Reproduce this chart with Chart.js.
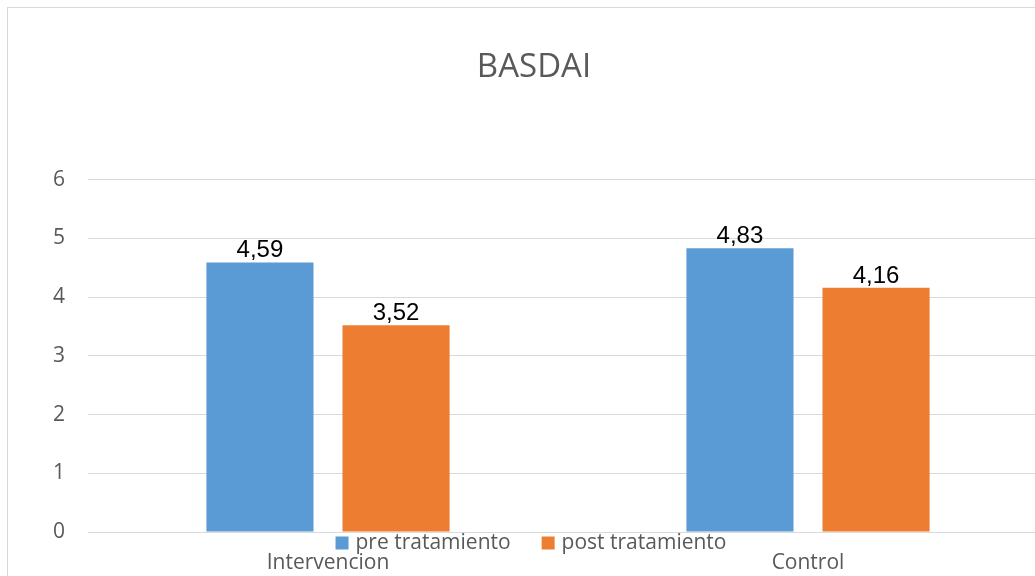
<!DOCTYPE html>
<html>
<head>
<meta charset="utf-8">
<script src="https://cdn.jsdelivr.net/npm/chart.js@4.4.1/dist/chart.umd.min.js"></script>
<style>
  html, body { margin: 0; padding: 0; background: #fff; overflow: hidden; }
  #frame { position: absolute; left: 7px; top: 7px; width: 1054px; height: 600px; border: 1px solid #d9d9d9; }
</style>
</head>
<body>
<div id="frame"><canvas id="barChart" width="1054" height="600"></canvas></div>
<script>
const categories = ['Intervencion', 'Control'];
const preValues = [4.59, 4.83];
const postValues = [3.52, 4.16];
const seriesNames = ['pre tratamiento', 'post tratamiento'];
const yTicks = [0, 1, 2, 3, 4, 5, 6];

const textGrey = '#595959';

// value labels above each bar, decimal comma
const valueLabels = {
  id: 'valueLabels',
  afterDatasetsDraw(chart) {
    const c = chart.ctx;
    c.save();
    c.font = '24px "Liberation Sans", Arial, sans-serif';
    c.fillStyle = '#000';
    c.textAlign = 'center';
    c.textBaseline = 'alphabetic';
    chart.data.datasets.forEach((ds, i) => {
      chart.getDatasetMeta(i).data.forEach((bar, j) => {
        c.fillText(ds.data[j].toFixed(2).replace('.', ','), bar.x, bar.y - 5);
      });
    });
    c.restore();
  }
};

// legend sits between axis line and category labels, like the original
const overlapLegend = {
  id: 'overlapLegend',
  afterDraw(chart) {
    const c = chart.ctx;
    c.save();
    c.font = '21px "Open Sans", sans-serif';
    c.textBaseline = 'middle';
    const box = 13, gap = 7, itemGap = 31;
    const items = chart.data.datasets.map(ds => ({ text: ds.label, color: ds.backgroundColor, w: box + gap + c.measureText(ds.label).width }));
    const total = items.reduce((s, it) => s + it.w, 0) + itemGap * (items.length - 1);
    let x = 523 - total / 2;
    const y = 535;
    items.forEach(it => {
      c.fillStyle = it.color;
      c.fillRect(x, y - box / 2, box, box);
      c.fillStyle = textGrey;
      c.fillText(it.text, x + box + gap, y);
      x += it.w + itemGap;
    });
    c.restore();
  }
};

const ctx = document.getElementById('barChart').getContext('2d');

new Chart(ctx, {
  type: 'bar',
  data: {
    labels: categories,
    datasets: [
      { label: seriesNames[0], data: preValues, backgroundColor: '#5B9BD5' },
      { label: seriesNames[1], data: postValues, backgroundColor: '#ED7D31' }
    ]
  },
  options: {
    responsive: false,
    animation: false,
    categoryPercentage: 0.567,
    barPercentage: 0.787,
    layout: { padding: { left: 12, right: 14, bottom: 26 } },
    plugins: {
      legend: { display: false },
      tooltip: { enabled: false },
      title: {
        display: true,
        text: 'BASDAI',
        color: textGrey,
        font: { family: '"Open Sans", sans-serif', size: 33, weight: 'normal' },
        padding: { top: 40, bottom: 92 }
      }
    },
    scales: {
      x: {
        grid: { display: false, drawTicks: false },
        border: { display: false },
        ticks: { color: textGrey, font: { family: '"Open Sans", sans-serif', size: 21 }, padding: 18 },
        afterFit(scale) { scale.height = 50; }
      },
      y: {
        min: 0,
        max: 6,
        afterBuildTicks(scale) { scale.ticks = yTicks.map(v => ({ value: v })); },
        grid: { color: '#d9d9d9', drawTicks: false },
        border: { display: false },
        ticks: { color: textGrey, font: { family: '"Open Sans", sans-serif', size: 21 }, padding: 23 },
        afterFit(scale) { scale.width = 68; }
      }
    }
  },
  plugins: [valueLabels, overlapLegend]
});
</script>
</body>
</html>
